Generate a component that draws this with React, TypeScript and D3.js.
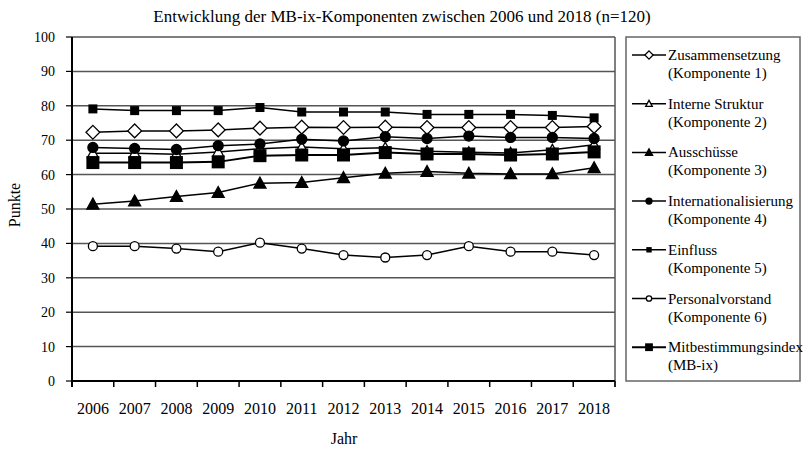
import React from 'react';
import * as d3 from 'd3';

const years = ['2006', '2007', '2008', '2009', '2010', '2011', '2012', '2013', '2014', '2015', '2016', '2017', '2018'];
const yTicks = [0, 10, 20, 30, 40, 50, 60, 70, 80, 90, 100];

const zusammensetzung = [72.3, 72.7, 72.7, 73.0, 73.5, 73.8, 73.7, 73.8, 73.7, 73.7, 73.7, 73.7, 74.0];
const interneStruktur = [66.2, 66.2, 65.9, 66.6, 67.5, 68.0, 67.5, 67.8, 66.8, 66.5, 66.3, 67.2, 68.7];
const ausschuesse = [51.4, 52.3, 53.6, 54.8, 57.5, 57.7, 59.1, 60.4, 60.9, 60.4, 60.2, 60.2, 62.0];
const internationalisierung = [67.9, 67.6, 67.3, 68.4, 68.9, 70.3, 69.8, 71.0, 70.5, 71.2, 70.8, 70.8, 70.5];
const einfluss = [79.1, 78.6, 78.6, 78.6, 79.5, 78.2, 78.2, 78.2, 77.5, 77.5, 77.5, 77.2, 76.5];
const personalvorstand = [39.2, 39.2, 38.5, 37.6, 40.2, 38.5, 36.6, 35.9, 36.6, 39.2, 37.6, 37.6, 36.6];
const mbix = [63.5, 63.5, 63.5, 63.7, 65.5, 65.7, 65.7, 66.4, 66.0, 66.0, 65.7, 66.0, 66.6];

const seriesNames = [
  ['Zusammensetzung', '(Komponente 1)'],
  ['Interne Struktur', '(Komponente 2)'],
  ['Ausschüsse', '(Komponente 3)'],
  ['Internationalisierung', '(Komponente 4)'],
  ['Einfluss', '(Komponente 5)'],
  ['Personalvorstand', '(Komponente 6)'],
  ['Mitbestimmungsindex', '(MB-ix)'],
];

const series = [
  { values: zusammensetzung, marker: 'diamond', fill: '#fff', size: 5.5 },
  { values: interneStruktur, marker: 'triangle', fill: '#fff', size: 5.5 },
  { values: ausschuesse, marker: 'triangle', fill: '#000', size: 6 },
  { values: internationalisierung, marker: 'circle', fill: '#000', size: 5 },
  { values: einfluss, marker: 'square', fill: '#000', size: 4.5 },
  { values: personalvorstand, marker: 'circle', fill: '#fff', size: 4.5 },
  { values: mbix, marker: 'square', fill: '#000', size: 6.5 },
];

const W = 803, H = 449;
const plot = { left: 72, right: 615, top: 37, bottom: 381 };
const font = "'Liberation Serif', 'Times New Roman', Times, serif";

function Marker({ type, x, y, s, fill }) {
  const sw = 1.3;
  if (type === 'circle') return <circle cx={x} cy={y} r={s} fill={fill} stroke="#000" strokeWidth={sw} />;
  if (type === 'square') return <rect x={x - s} y={y - s} width={2 * s} height={2 * s} fill="#000" />;
  if (type === 'diamond')
    return <path d={`M${x},${y - s * 1.25}L${x + s * 1.25},${y}L${x},${y + s * 1.25}L${x - s * 1.25},${y}Z`} fill={fill} stroke="#000" strokeWidth={sw} />;
  return <path d={`M${x},${y - s}L${x + s},${y + s * 0.8}L${x - s},${y + s * 0.8}Z`} fill={fill} stroke="#000" strokeWidth={sw} />;
}

export default function App() {
  const x = d3.scaleBand().domain(years).range([plot.left, plot.right]).padding(0);
  const y = d3.scaleLinear().domain([0, 100]).range([plot.bottom, plot.top]);
  const cx = (yr) => x(yr) + x.bandwidth() / 2;

  const line = d3.line().x((d, i) => cx(years[i])).y((d) => y(d));

  const tickEdges = years.map((yr) => x(yr)).concat([plot.right]);

  const legend = { x: 626, y: 37, w: 174, h: 344, first: 55, step: 48.7 };
  const txt = { fontFamily: font };

  return (
    <svg width={W} height={H} style={{ display: 'block', position: 'absolute', left: 0, top: 0, background: '#fff', fontFamily: font }}>
      <text x={402} y={22} textAnchor="middle" fontSize={17} style={txt}>
        Entwicklung der MB-ix-Komponenten zwischen 2006 und 2018 (n=120)
      </text>

      {/* Gitter */}
      {yTicks.map((t) => (
        <g key={t}>
          <line x1={plot.left} x2={plot.right} y1={y(t)} y2={y(t)} stroke="#555" strokeWidth={1.5} />
          <line x1={plot.left - 6} x2={plot.left} y1={y(t)} y2={y(t)} stroke="#000" strokeWidth={1.2} />
          <text x={55} y={y(t) + 5} textAnchor="end" fontSize={14} style={txt}>{t}</text>
        </g>
      ))}
      <line x1={plot.right} x2={plot.right} y1={plot.top} y2={plot.bottom + 6} stroke="#555" strokeWidth={1.5} />
      <line x1={plot.left} x2={plot.left} y1={plot.top} y2={plot.bottom + 6} stroke="#000" strokeWidth={2} />
      <line x1={plot.left} x2={plot.right} y1={plot.bottom} y2={plot.bottom} stroke="#000" strokeWidth={2} />
      {tickEdges.map((e, i) => (
        <line key={i} x1={e} x2={e} y1={plot.bottom} y2={plot.bottom + 6} stroke="#000" strokeWidth={1.5} />
      ))}
      {years.map((yr) => (
        <text key={yr} x={cx(yr)} y={414} textAnchor="middle" fontSize={16} style={txt}>{yr}</text>
      ))}
      <text x={344} y={444} textAnchor="middle" fontSize={16} style={txt}>Jahr</text>
      <text transform="translate(20,205) rotate(-90)" textAnchor="middle" fontSize={16} style={txt}>Punkte</text>

      {/* Linien */}
      {series.map((s, k) => (
        <path key={k} d={line(s.values)} fill="none" stroke="#000" strokeWidth={k === 6 ? 2 : 1.5} />
      ))}
      {series.map((s, k) =>
        s.values.map((v, i) => (
          <Marker key={k + '-' + i} type={s.marker} x={cx(years[i])} y={y(v)} s={s.size} fill={s.fill} />
        ))
      )}

      {/* Legende */}
      <rect x={legend.x} y={legend.y} width={legend.w} height={legend.h} fill="#fff" stroke="#666" strokeWidth={1.5} />
      {seriesNames.map((n, k) => {
        const ly = legend.first + k * legend.step;
        const s = series[k];
        return (
          <g key={k}>
            <line x1={632} x2={666} y1={ly} y2={ly} stroke="#000" strokeWidth={k === 6 ? 2 : 1.5} />
            <Marker type={s.marker} x={649} y={ly} s={s.size * 0.6} fill={s.fill} />
            <text x={668} y={ly + 5} fontSize={15} style={txt}>{n[0]}</text>
            <text x={668} y={ly + 23} fontSize={15} style={txt}>{n[1]}</text>
          </g>
        );
      })}
    </svg>
  );
}
